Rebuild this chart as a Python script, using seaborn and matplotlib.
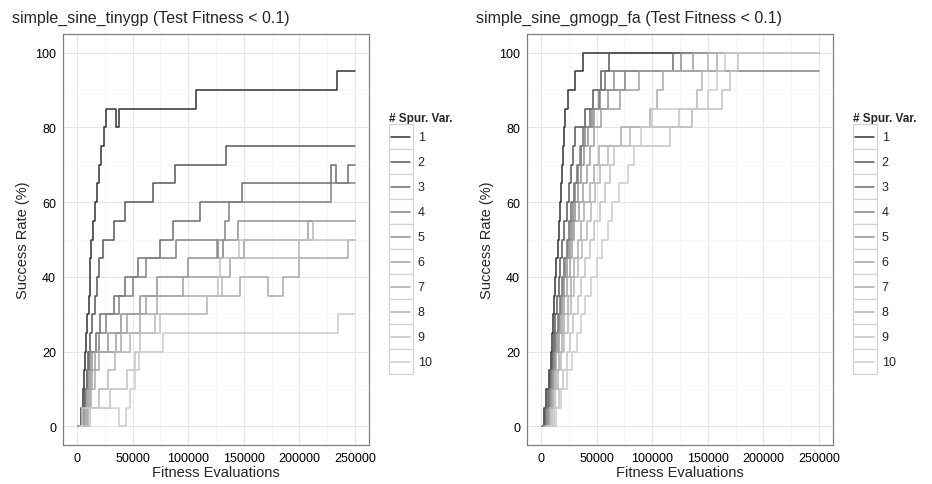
import numpy as np
import pandas as pd
import seaborn as sns
import matplotlib.pyplot as plt
from matplotlib.legend_handler import HandlerLine2D
from matplotlib.patches import Rectangle
from matplotlib.lines import Line2D
from matplotlib.ticker import MultipleLocator

# Success rate step points (evaluations in thousands, rate in %)
spur_vars = [1, 2, 3, 4, 5, 6, 7, 8, 9, 10]
eval_budget = 250  # thousand evaluations, last point of every run

# simple_sine_tinygp
tiny_1_x = [1, 4, 5.5, 6.5, 7.5, 8.5, 9.5, 10.5, 11.5, 12, 13, 14.5, 16, 18, 20, 22, 24, 26.5, 35.5, 37.5, 107, 234]
tiny_1_y = [0, 5, 10, 15, 20, 25, 30, 35, 40, 45, 50, 55, 60, 65, 70, 75, 80, 85, 80, 85, 90, 95]
tiny_2_x = [1.5, 5, 7, 9, 10, 12, 14, 16, 18, 20, 23, 33.5, 43.5, 68.5, 88, 134]
tiny_2_y = [0, 5, 10, 15, 20, 25, 30, 35, 40, 45, 50, 55, 60, 65, 70, 75]
tiny_3_x = [2, 5, 7, 9, 11, 17, 21, 33, 43.5, 55, 74.5, 86.5, 110.5, 148, 228.5, 233, 244]
tiny_3_y = [0, 5, 10, 15, 20, 25, 30, 35, 40, 45, 50, 55, 60, 65, 70, 65, 70]
tiny_4_x = [2.5, 6, 8, 10, 12, 20, 26, 38, 50, 62, 89.5, 127, 131.5, 133.5, 137, 228]
tiny_4_y = [0, 5, 10, 15, 20, 25, 30, 35, 40, 45, 50, 45, 50, 55, 60, 65]
tiny_5_x = [3, 8, 10, 12, 14, 28, 40, 57, 72, 100, 126, 145]
tiny_5_y = [0, 5, 10, 15, 20, 25, 30, 35, 40, 45, 50, 55]
tiny_6_x = [3, 9, 12, 14, 16, 35, 45, 62, 95, 138, 150, 208]
tiny_6_y = [0, 5, 10, 15, 20, 25, 30, 35, 40, 45, 50, 55]
tiny_7_x = [4, 10, 13, 16, 20, 40, 57, 72, 146.5, 172, 185, 200, 244]
tiny_7_y = [0, 5, 10, 15, 20, 25, 30, 35, 40, 35, 40, 45, 50]
tiny_8_x = [4, 8, 20, 28, 34, 48, 70, 117, 130, 138, 200, 212]
tiny_8_y = [0, 5, 10, 15, 20, 25, 30, 35, 40, 45, 50, 55]
tiny_9_x = [4, 12, 30, 45, 52, 57, 75, 117, 127, 129, 146]
tiny_9_y = [0, 5, 10, 15, 20, 25, 30, 35, 40, 45, 50]
tiny_10_x = [1.5, 5, 38, 44, 48, 52, 56, 77, 235]
tiny_10_y = [0, 5, 0, 5, 10, 15, 20, 25, 30]

# simple_sine_gmogp_fa
gmo_1_x = [1, 3, 4.5, 7, 9, 10, 11, 12, 13, 14, 15, 16, 17, 18, 19, 20, 21, 22, 24.5, 31, 37.5]
gmo_1_y = [0, 5, 10, 15, 20, 25, 30, 35, 40, 45, 50, 55, 60, 65, 70, 75, 80, 85, 90, 95, 100]
gmo_2_x = [1.5, 4, 6, 8, 10, 11.5, 13, 14.5, 16, 17.5, 19, 21, 23, 25, 27, 29, 31, 40, 47, 54, 61.3]
gmo_2_y = [0, 5, 10, 15, 20, 25, 30, 35, 40, 45, 50, 55, 60, 65, 70, 75, 80, 85, 90, 95, 100]
gmo_3_x = [2, 5, 7, 9, 11, 13, 15, 17, 19, 21, 23, 25, 27, 30, 32, 36, 38, 44, 52, 58, 118.4]
gmo_3_y = [0, 5, 10, 15, 20, 25, 30, 35, 40, 45, 50, 55, 60, 65, 70, 75, 80, 85, 90, 95, 100]
gmo_4_x = [2, 6, 8, 10, 12, 14, 16, 18, 20, 22, 24, 27, 29, 31, 33, 35, 40, 46, 53, 76]
gmo_4_y = [0, 5, 10, 15, 20, 25, 30, 35, 40, 45, 50, 55, 60, 65, 70, 75, 80, 85, 90, 95]
gmo_5_x = [3, 6, 9, 11, 13, 15, 17, 19, 21, 23, 26, 29, 31, 33, 36, 39, 42, 48, 60, 66, 126.2]
gmo_5_y = [0, 5, 10, 15, 20, 25, 30, 35, 40, 45, 50, 55, 60, 65, 70, 75, 80, 85, 90, 95, 100]
gmo_6_x = [3, 7, 10, 12, 14, 16, 19, 21, 23, 26, 28, 30, 34, 38, 41, 44, 48, 54, 71, 88, 136.6]
gmo_6_y = [0, 5, 10, 15, 20, 25, 30, 35, 40, 45, 50, 55, 60, 65, 70, 75, 80, 85, 90, 95, 100]
gmo_7_x = [4, 8, 11, 14, 16, 19, 21, 24, 27, 30, 33, 36, 39, 44, 48, 52, 72, 98, 104, 110, 158]
gmo_7_y = [0, 5, 10, 15, 20, 25, 30, 35, 40, 45, 50, 55, 60, 65, 70, 75, 80, 85, 90, 95, 100]
gmo_8_x = [5, 10, 13, 15, 18, 21, 24, 27, 30, 33, 37, 41, 45, 49, 53, 60, 80, 136, 140, 145, 150.5]
gmo_8_y = [0, 5, 10, 15, 20, 25, 30, 35, 40, 45, 50, 55, 60, 65, 70, 75, 80, 85, 90, 95, 100]
gmo_9_x = [6, 12, 16, 20, 23, 26, 29, 33, 36, 40, 44, 48, 53, 58, 62, 66, 116.4, 124, 163, 170, 177.3]
gmo_9_y = [0, 5, 10, 15, 20, 25, 30, 35, 40, 45, 50, 55, 60, 65, 70, 75, 80, 85, 90, 95, 100]
gmo_10_x = [7, 14, 18, 23, 28, 32, 36, 40, 45, 50, 55, 60, 64, 70, 78, 84, 90, 100, 150, 158, 165.4]
gmo_10_y = [0, 5, 10, 15, 20, 25, 30, 35, 40, 45, 50, 55, 60, 65, 70, 75, 80, 85, 90, 95, 100]

tiny_runs = [(tiny_1_x, tiny_1_y), (tiny_2_x, tiny_2_y), (tiny_3_x, tiny_3_y), (tiny_4_x, tiny_4_y),
             (tiny_5_x, tiny_5_y), (tiny_6_x, tiny_6_y), (tiny_7_x, tiny_7_y), (tiny_8_x, tiny_8_y),
             (tiny_9_x, tiny_9_y), (tiny_10_x, tiny_10_y)]
gmo_runs = [(gmo_1_x, gmo_1_y), (gmo_2_x, gmo_2_y), (gmo_3_x, gmo_3_y), (gmo_4_x, gmo_4_y),
            (gmo_5_x, gmo_5_y), (gmo_6_x, gmo_6_y), (gmo_7_x, gmo_7_y), (gmo_8_x, gmo_8_y),
            (gmo_9_x, gmo_9_y), (gmo_10_x, gmo_10_y)]


def build_frame(runs):
    frames = []
    for n, (xs, ys) in zip(spur_vars, runs):
        xs = list(xs) + [eval_budget]
        ys = list(ys) + [ys[-1]]
        frames.append(pd.DataFrame({"evals": np.array(xs) * 1000, "rate": ys, "spur": n}))
    return pd.concat(frames, ignore_index=True)


def grey_levels(n, start=0.2, end=0.8, gamma=2.2):
    # same ramp as ggplot's scale_colour_grey
    lv = np.linspace(start ** gamma, end ** gamma, n) ** (1 / gamma)
    return [(v, v, v) for v in lv]


class BoxedKey(HandlerLine2D):
    """Legend key drawn inside a light grey box, ggplot style."""

    def create_artists(self, legend, orig_handle, xdescent, ydescent, width, height, fontsize, trans):
        box = Rectangle((-xdescent, -ydescent), width, height, facecolor="white",
                        edgecolor="#D4D4D4", lw=0.9, transform=trans)
        y = -ydescent + height / 2
        line = Line2D([-xdescent + width * 0.1, -xdescent + width * 0.9], [y, y],
                      color=orig_handle.get_color(), lw=orig_handle.get_linewidth(), transform=trans)
        return [box, line]


sns.set_style("white")
plt.rcParams["font.family"] = ["Liberation Sans", "DejaVu Sans"]

colors = grey_levels(len(spur_vars))
palette = dict(zip(spur_vars, colors))

fig = plt.figure(figsize=(9.32, 4.85), dpi=100)
W, H = 932, 485

panels = [
    ("simple_sine_tinygp (Test Fitness < 0.1)", tiny_runs, 63, 12, 389),
    ("simple_sine_gmogp_fa (Test Fitness < 0.1)", gmo_runs, 527, 476, 853),
]

for title, runs, left_px, title_px, legend_px in panels:
    ax = fig.add_axes([left_px / W, 1 - 446 / H, 306 / W, 411 / H])
    df = build_frame(runs)
    sns.lineplot(data=df, x="evals", y="rate", hue="spur", palette=palette,
                 estimator=None, drawstyle="steps-post", lw=1.1, ax=ax, legend=False)

    ax.set_xlim(-12500, 262500)
    ax.set_ylim(-5, 105)
    ax.xaxis.set_major_locator(MultipleLocator(50000))
    ax.xaxis.set_minor_locator(MultipleLocator(25000))
    ax.yaxis.set_major_locator(MultipleLocator(20))
    ax.yaxis.set_minor_locator(MultipleLocator(10))
    ax.grid(which="major", color="#E6E6E6", lw=0.8)
    ax.grid(which="minor", color="#F5F5F5", lw=0.6)
    ax.set_axisbelow(True)
    for sp in ax.spines.values():
        sp.set_color("#808080")
        sp.set_linewidth(0.9)
    ax.tick_params(which="major", length=3, width=0.8, color="#808080",
                   labelsize=9, labelcolor="black", pad=2)
    ax.tick_params(which="minor", length=0)
    ax.xaxis.set_major_formatter(plt.FuncFormatter(lambda v, p: f"{int(v)}"))

    ax.set_xlabel("Fitness Evaluations", fontsize=10.5, labelpad=1)
    ax.set_ylabel("Success Rate (%)", fontsize=10.5, labelpad=4)

    fig.text(title_px / W, 1 - 18 / H, title, fontsize=11.5, ha="left", va="center")

    handles = [Line2D([], [], color=c, lw=1.1) for c in colors]
    leg = fig.legend(handles, [str(n) for n in spur_vars], handler_map={Line2D: BoxedKey()},
                     title="# Spur. Var.", title_fontproperties={"weight": "bold", "size": 8.5},
                     fontsize=9, loc="upper left", bbox_to_anchor=(legend_px / W, 1 - 113 / H),
                     frameon=False, borderpad=0, borderaxespad=0, labelspacing=0,
                     handlelength=1.9, handleheight=2.7, handletextpad=0.4, alignment="left")

fig.savefig("out.png", dpi=100)
